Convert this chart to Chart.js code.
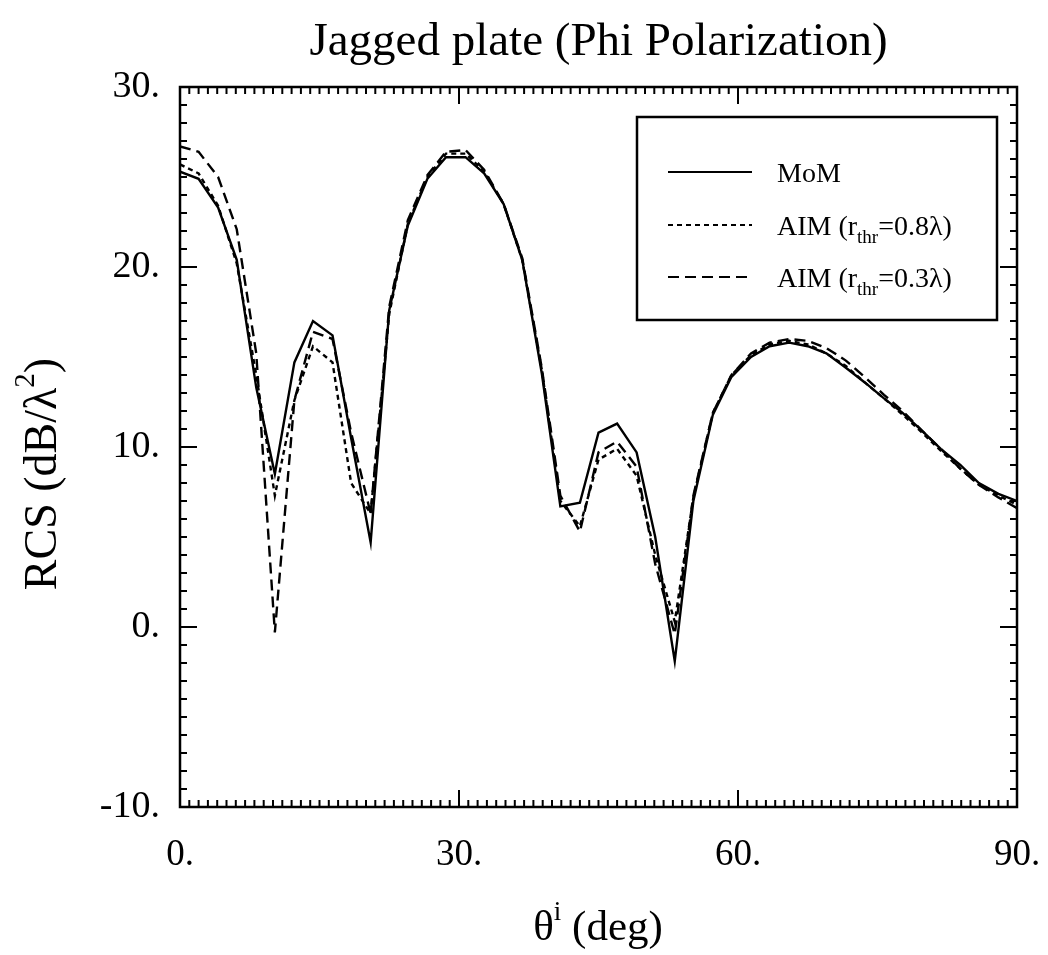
<!doctype html>
<html lang="en">
<head>
<meta charset="utf-8">
<title>Jagged plate (Phi Polarization)</title>
<script src="https://cdn.jsdelivr.net/npm/chart.js@4.4.1/dist/chart.umd.min.js"></script>
<style>
  html, body { margin: 0; padding: 0; background: #fff; }
  #wrap { width: 1048px; height: 955px; }
</style>
</head>
<body>
<div id="wrap"><canvas id="rcs" width="1048" height="955"></canvas></div>
<script>
// incidence angle samples (deg)
var theta = [0, 2.0, 4.1, 6.1, 8.2, 10.2, 12.3, 14.3, 16.4, 18.4,
             20.5, 22.5, 24.5, 26.6, 28.6, 30.7, 32.7, 34.8, 36.8, 38.9,
             40.9, 43.0, 45.0, 47.0, 49.1, 51.1, 53.2, 55.2, 57.3, 59.3,
             61.4, 63.4, 65.5, 67.5, 69.5, 71.6, 73.6, 75.7, 77.7, 79.8,
             81.8, 83.9, 85.9, 88.0, 90.0];

// RCS (dB/lambda^2)
var mom   = [25.3, 24.9, 23.3, 20.4, 13.3, 8.5, 14.7, 17.0, 16.2, 10.5,
             4.7, 17.6, 22.3, 24.9, 26.1, 26.1, 25.2, 23.5, 20.4, 14.1,
             6.7, 6.9, 10.8, 11.3, 9.7, 5.0, -1.9, 7.0, 11.8, 13.9,
             15.0, 15.6, 15.8, 15.6, 15.2, 14.4, 13.6, 12.7, 11.9, 10.9,
             9.9, 9.0, 8.0, 7.4, 7.0];
var aim08 = [25.7, 25.2, 23.4, 20.2, 14.0, 7.3, 12.6, 15.6, 14.7, 8.0,
             6.3, 17.4, 22.4, 25.0, 26.3, 26.3, 25.3, 23.5, 20.4, 14.3,
             7.0, 5.6, 9.3, 9.9, 8.4, 4.0, 0.3, 7.2, 11.9, 14.0,
             15.1, 15.7, 15.9, 15.7, 15.2, 14.5, 13.6, 12.7, 11.8, 10.8,
             9.8, 8.8, 7.9, 7.3, 6.8];
var aim03 = [26.7, 26.4, 25.0, 22.1, 15.2, -0.3, 12.6, 16.4, 16.0, 10.8,
             6.3, 17.8, 22.6, 25.1, 26.4, 26.5, 25.4, 23.5, 20.5, 14.4,
             7.3, 5.3, 9.7, 10.3, 8.9, 3.5, -0.4, 7.3, 11.9, 14.0,
             15.2, 15.8, 16.0, 15.9, 15.5, 14.8, 13.9, 12.9, 12.0, 10.9,
             9.9, 8.8, 7.9, 7.2, 6.6];

var xTicks = [0, 30, 60, 90];
var yTicks = [-10, 0, 10, 20, 30];

var SERIF = '"Liberation Serif", "DejaVu Serif", serif';

function pts(ys) {
  return ys.map(function(v, i) { return { x: theta[i], y: v }; });
}

var series = [
  { label: 'MoM', data: mom, dash: [], sub: '' },
  { label: 'AIM (r', data: aim08, dash: [5, 4], sub: '=0.8\u03bb)' },
  { label: 'AIM (r', data: aim03, dash: [11, 6], sub: '=0.3\u03bb)' }
];

// text with a small subscript / superscript piece in the middle
function richText(ctx, x, y, parts) {
  parts.forEach(function(p) {
    ctx.font = p.size + 'px ' + SERIF;
    ctx.fillText(p.t, x, y + (p.dy || 0));
    x += ctx.measureText(p.t).width;
  });
}
function richWidth(ctx, parts) {
  var w = 0;
  parts.forEach(function(p) {
    ctx.font = p.size + 'px ' + SERIF;
    w += ctx.measureText(p.t).width;
  });
  return w;
}

var decor = {
  id: 'decor',
  afterDraw: function(chart) {
    var ctx = chart.ctx, a = chart.chartArea;
    var xs = chart.scales.x, ys = chart.scales.y;
    ctx.save();
    ctx.strokeStyle = '#000';
    ctx.fillStyle = '#000';
    ctx.setLineDash([]);

    // frame
    ctx.lineWidth = 2.5;
    ctx.strokeRect(a.left, a.top, a.right - a.left, a.bottom - a.top);

    // inward ticks on all four sides
    ctx.lineWidth = 2;
    ctx.beginPath();
    for (var d = 0; d <= 90; d++) {
      var px = xs.getPixelForValue(d);
      var len = (d % 30 === 0) ? 17 : 7;
      ctx.moveTo(px, a.bottom); ctx.lineTo(px, a.bottom - len);
      ctx.moveTo(px, a.top); ctx.lineTo(px, a.top + len);
    }
    for (var v = -10; v <= 30; v++) {
      var py = ys.getPixelForValue(v);
      var l2 = (v % 10 === 0) ? 17 : 7;
      ctx.moveTo(a.left, py); ctx.lineTo(a.left + l2, py);
      ctx.moveTo(a.right, py); ctx.lineTo(a.right - l2, py);
    }
    ctx.stroke();

    // title
    ctx.textAlign = 'center';
    ctx.textBaseline = 'alphabetic';
    ctx.font = '47px ' + SERIF;
    ctx.fillText('Jagged plate (Phi Polarization)', (a.left + a.right) / 2, 55);

    // x axis title
    ctx.textAlign = 'left';
    var xt = [{ t: '\u03b8', size: 43 }, { t: 'i', size: 27, dy: -20 }, { t: ' (deg)', size: 43 }];
    richText(ctx, 598 - richWidth(ctx, xt) / 2, 940, xt);

    // y axis title
    ctx.save();
    ctx.translate(56, 474);
    ctx.rotate(-Math.PI / 2);
    var yt = [{ t: 'RCS (dB/\u03bb', size: 46 }, { t: '2', size: 29, dy: -22 }, { t: ')', size: 46 }];
    richText(ctx, -richWidth(ctx, yt) / 2, 0, yt);
    ctx.restore();

    // legend
    var bx = 637, by = 117, bw = 360, bh = 203;
    ctx.lineWidth = 2.5;
    ctx.strokeRect(bx, by, bw, bh);
    var rows = [172, 225, 277];
    series.forEach(function(s, i) {
      ctx.setLineDash(s.dash);
      ctx.lineWidth = 2;
      ctx.beginPath();
      ctx.moveTo(668, rows[i]);
      ctx.lineTo(752, rows[i]);
      ctx.stroke();
      ctx.setLineDash([]);
      var parts = [{ t: s.label, size: 28 }];
      if (s.sub) {
        parts.push({ t: 'thr', size: 19, dy: 8 });
        parts.push({ t: s.sub, size: 28 });
      }
      richText(ctx, 777, rows[i] + 10, parts);
    });
    ctx.restore();
  }
};

new Chart(document.getElementById('rcs'), {
  type: 'line',
  data: {
    datasets: series.map(function(s) {
      return {
        label: s.label + (s.sub ? 'thr' + s.sub : ''),
        data: pts(s.data),
        borderColor: '#000',
        borderWidth: 2.4,
        borderDash: s.dash,
        pointRadius: 0,
        tension: 0,
        fill: false
      };
    })
  },
  options: {
    responsive: false,
    animation: false,
    layout: { padding: { top: 87, right: 31, left: 0, bottom: 0 } },
    plugins: { legend: { display: false }, title: { display: false }, tooltip: { enabled: false } },
    scales: {
      x: {
        type: 'linear', min: 0, max: 90,
        afterFit: function(sc) { sc.height = 148; sc.paddingLeft = 0; sc.paddingRight = 0; },
        afterBuildTicks: function(sc) { sc.ticks = xTicks.map(function(v) { return { value: v }; }); },
        grid: { display: false, drawTicks: false },
        border: { display: false },
        ticks: {
          padding: 26, color: '#000', maxRotation: 0,
          font: { family: SERIF, size: 37 },
          callback: function(v) { return v + '.'; }
        }
      },
      y: {
        type: 'linear', min: -10, max: 30,
        afterFit: function(sc) { sc.width = 180; sc.paddingTop = 0; sc.paddingBottom = 0; },
        afterBuildTicks: function(sc) { sc.ticks = yTicks.map(function(v) { return { value: v }; }); },
        grid: { display: false, drawTicks: false },
        border: { display: false },
        ticks: {
          padding: 20, color: '#000',
          font: { family: SERIF, size: 38 },
          callback: function(v) { return v + '.'; }
        }
      }
    }
  },
  plugins: [decor]
});
</script>
</body>
</html>
